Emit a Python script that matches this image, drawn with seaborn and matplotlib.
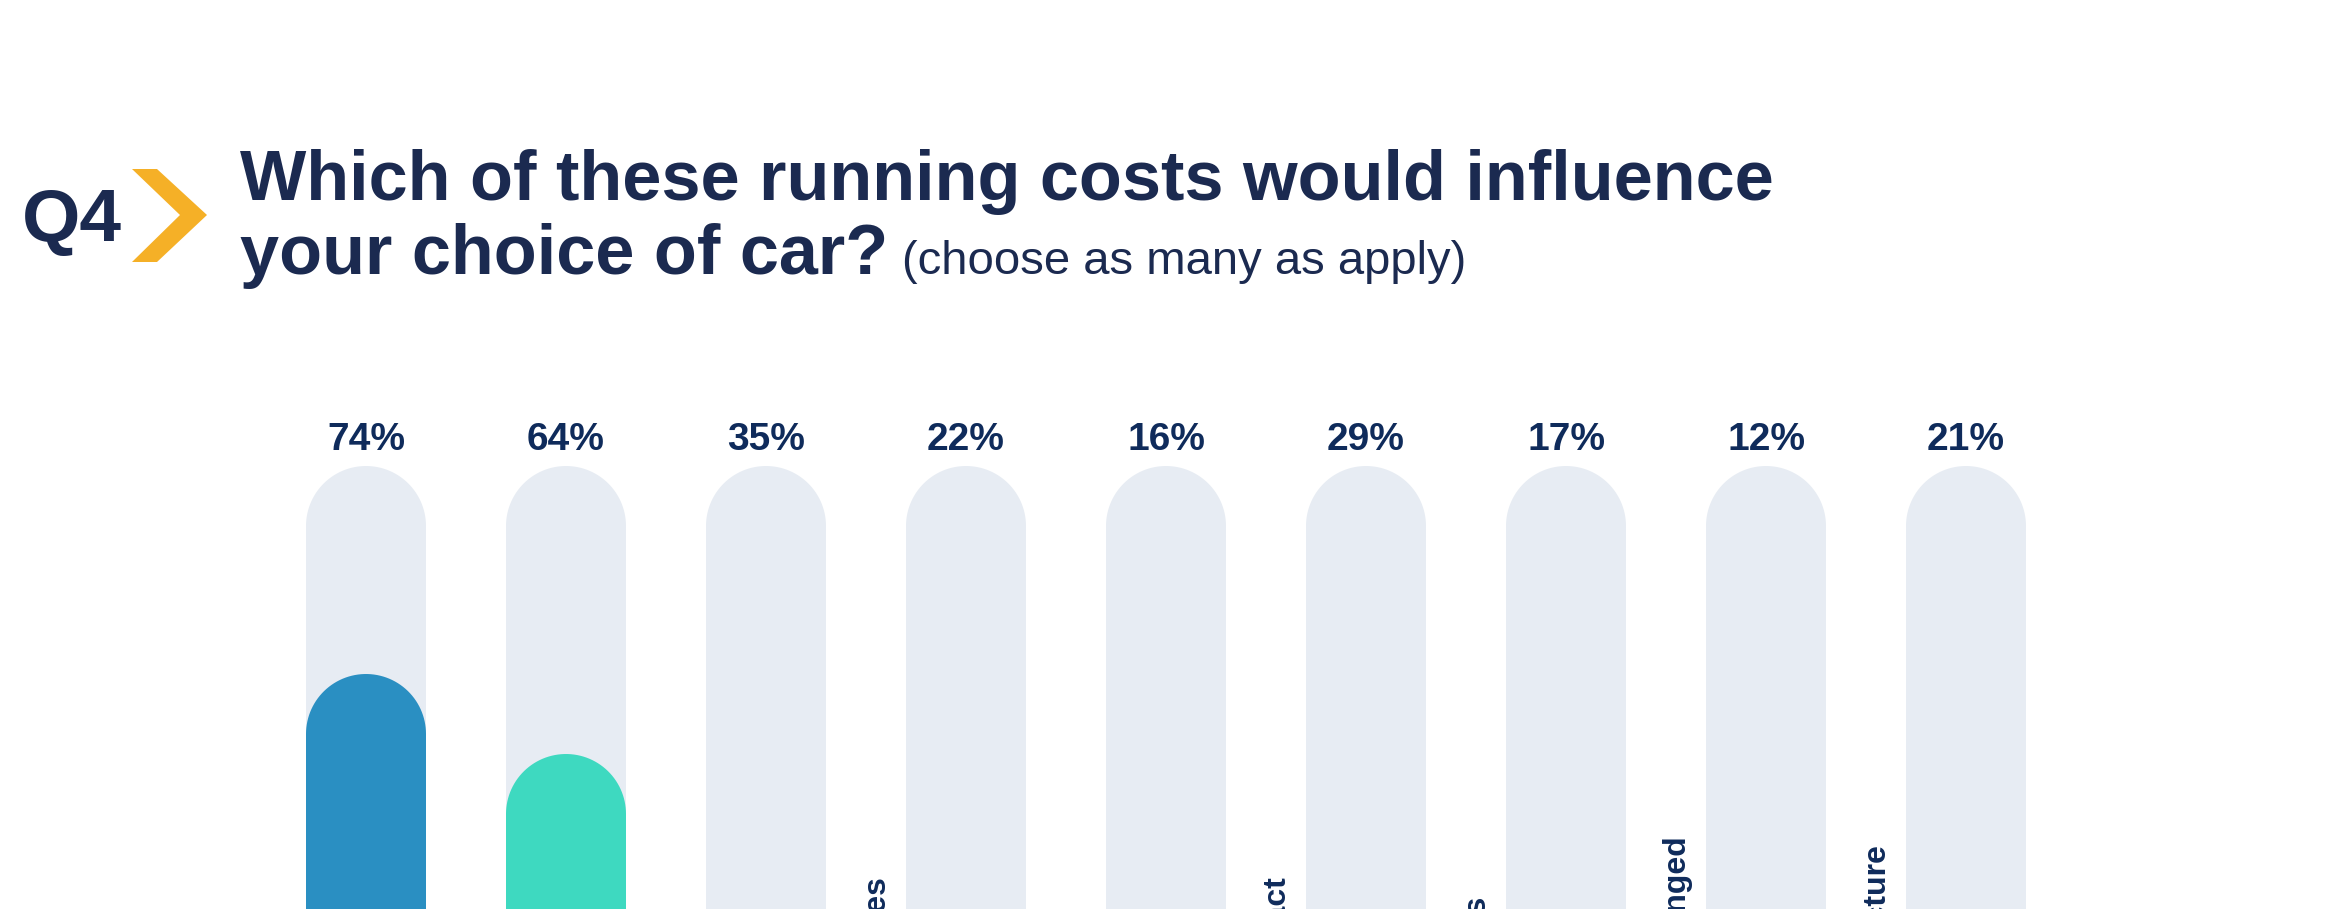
import numpy as np
import pandas as pd
import matplotlib
matplotlib.use('Agg')
import matplotlib.pyplot as plt
from matplotlib.patches import Polygon
import seaborn as sns

# data
categories = ['Fuel costs', 'Insurance', 'Road tax', 'Congestion zone charges', 'Parking fees',
              'Environmental tax impact', 'Breakdown cover prices', 'Cost of tyres being changed',
              'EVs charging infrastructure']
values = [74, 64, 35, 22, 16, 29, 17, 12, 21]
track = [100] * len(categories)
bar_colors = ['#2a8fc2', '#3ed9c0', '#f5b027', '#7d5ba6', '#e8607a', '#4f79c7', '#8cc63f', '#f08a3c', '#5bc0de']

navy = '#1b2a50'
label_navy = '#0f2b5b'
track_color = '#e7ecf3'

sns.set_style('white')
plt.rcParams['font.family'] = ['Liberation Sans', 'DejaVu Sans']

fig = plt.figure(figsize=(23.5, 9.09), dpi=100)
# axes runs below the bottom edge of the picture (chart is cut off there)
ax = fig.add_axes([266 / 2350, -357 / 909, 1800 / 2350, 800 / 909])

df = pd.DataFrame({'category': categories, 'value': values, 'track': track})
sns.barplot(data=df, x='category', y='track', color=track_color, width=0.6,
            saturation=1, ax=ax)
sns.barplot(data=df, x='category', y='value', hue='category', palette=bar_colors,
            legend=False, width=0.6, saturation=1, ax=ax)
ax.set_xlim(-0.5, len(categories) - 0.5)
ax.set_ylim(0, 100)
ax.set_axis_off()

# turn plain bars into pills with a half-circle top
p0 = ax.transData.transform((0, 0))
p1 = ax.transData.transform((1, 1))
aspect = (p1[0] - p0[0]) / (p1[1] - p0[1])  # y units per x unit on screen
theta = np.linspace(0, np.pi, 60)
for p in list(ax.patches):
    x, y = p.get_x(), p.get_y()
    w, h = p.get_width(), p.get_height()
    fc = p.get_facecolor()
    z = p.get_zorder()
    p.remove()
    r = w / 2
    ry = r * aspect
    cx = x + r
    top = y + h
    arc = np.column_stack([cx + r * np.cos(theta), top - ry + ry * np.sin(theta)])
    pts = np.vstack([[x + w, y], arc, [x, y]])
    ax.add_patch(Polygon(pts, closed=True, facecolor=fc, edgecolor='none',
                         zorder=z, clip_on=False))

# percentage labels above each track
for i, v in enumerate(values):
    ax.annotate(f'{v}%', (i, 100), xytext=(0, 11.5), textcoords='offset points',
                ha='center', va='baseline', fontsize=28, fontweight='bold',
                color=label_navy, annotation_clip=False)

# rotated category labels left of each bar
for i, c in enumerate(categories):
    ax.text(i - 0.44, 0, c, rotation=90, ha='center', va='bottom', fontsize=23,
            fontweight='bold', color=label_navy, clip_on=False)

# heading
fig.text(22 / 2350, 1 - 241 / 909, 'Q4', fontsize=54, fontweight='bold', color=navy,
         ha='left', va='baseline')
chev = [(132, 169), (157, 169), (207, 215), (157, 262), (132, 262), (180, 215)]
fig.patches.append(Polygon([(px / 2350, 1 - py / 909) for px, py in chev], closed=True,
                           transform=fig.transFigure, facecolor='#f5b027', edgecolor='none'))
fig.text(240 / 2350, 1 - 200 / 909, 'Which of these running costs would influence',
         fontsize=50.6, fontweight='bold', color=navy, ha='left', va='baseline')
fig.text(240 / 2350, 1 - 274 / 909, 'your choice of car?',
         fontsize=50.6, fontweight='bold', color=navy, ha='left', va='baseline')
fig.text(902 / 2350, 1 - 274 / 909, '(choose as many as apply)',
         fontsize=34, color=navy, ha='left', va='baseline')

fig.savefig('out.png', dpi=100)
